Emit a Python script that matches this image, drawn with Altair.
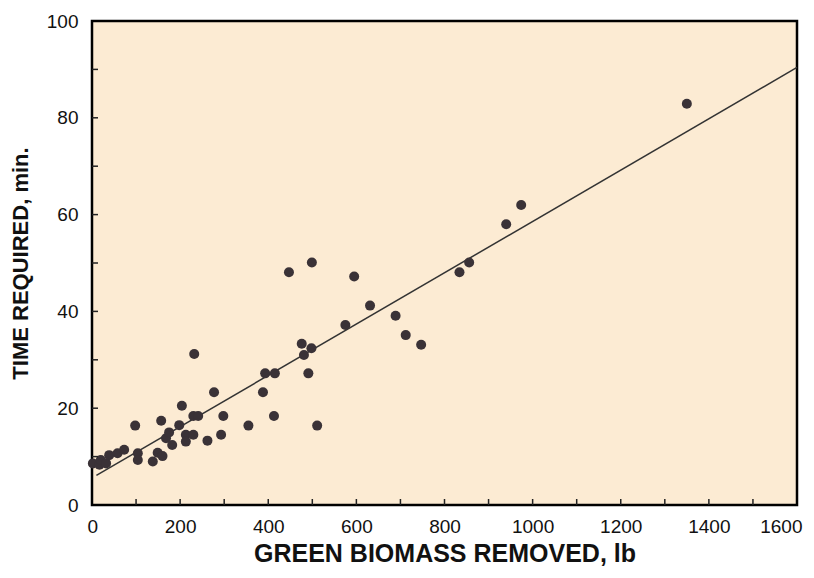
import altair as alt
import pandas as pd

# Data
biomass_lb = [2, 17, 20, 32, 39, 58, 73, 98, 104, 104, 138, 149, 160, 157, 168,
              175, 182, 198, 204, 213, 213, 230, 230, 232, 241, 262, 277, 293, 298,
              355, 388, 393, 413, 415, 447, 476, 481, 491, 498, 499, 511, 575, 595,
              631, 689, 712, 747, 834, 856, 940, 974, 1350]
time_min = [8.6, 8.3, 9.3, 8.6, 10.3, 10.7, 11.4, 16.4, 10.7, 9.3, 9.0, 10.8, 10.1, 17.4, 13.8,
            15.0, 12.4, 16.5, 20.5, 14.5, 13.1, 14.5, 18.4, 31.2, 18.4, 13.3, 23.3, 14.5, 18.4,
            16.4, 23.3, 27.2, 18.4, 27.2, 48.1, 33.3, 31.0, 27.2, 32.4, 50.1, 16.4, 37.2, 47.2,
            41.2, 39.1, 35.1, 33.1, 48.1, 50.1, 58.0, 62.0, 82.9]

# regression line end points
fit_x = [10, 1600]
fit_y = [6.1, 90.4]

y_ticks = list(range(10, 100, 10))
x_ticks = list(range(100, 1600, 100))

pts = pd.DataFrame({"x": biomass_lb, "y": time_min})
fit = pd.DataFrame({"x": fit_x, "y": fit_y})
yt = pd.DataFrame({"y": y_ticks})
xt = pd.DataFrame({"x": x_ticks})

FONT = "Liberation Sans"
xscale = alt.Scale(domain=[0, 1600], nice=False)
yscale = alt.Scale(domain=[0, 100], nice=False)

xaxis = alt.Axis(values=list(range(0, 1601, 200)), format="d", ticks=False, domain=False, grid=False,
                 labelFontSize=19, labelFont=FONT, labelColor="#111", labelPadding=12,
                 labelFlush=True, labelFlushOffset=5,
                 title="GREEN BIOMASS REMOVED, lb", titleFont=FONT, titleFontSize=25,
                 titleFontWeight="bold", titleColor="#111", titlePadding=5)
yaxis = alt.Axis(values=list(range(0, 101, 20)), format="d", ticks=False, domain=False, grid=False,
                 labelFontSize=19, labelFont=FONT, labelColor="#111", labelPadding=14,
                 title="TIME REQUIRED, min.", titleFont=FONT, titleFontSize=22,
                 titleFontWeight="bold", titleColor="#111", titlePadding=14)

points = alt.Chart(pts).mark_circle(size=100, opacity=1, color="#3a3237").encode(
    x=alt.X("x:Q", scale=xscale, axis=xaxis),
    y=alt.Y("y:Q", scale=yscale, axis=yaxis),
)
line = alt.Chart(fit).mark_line(color="#333333", strokeWidth=1.5).encode(
    x=alt.X("x:Q", scale=xscale),
    y=alt.Y("y:Q", scale=yscale),
)
ytick_marks = alt.Chart(yt).mark_rule(color="#222", strokeWidth=1.5).encode(
    y=alt.Y("y:Q", scale=yscale),
    x=alt.value(0), x2=alt.value(6),
)
xtick_marks = alt.Chart(xt).mark_rule(color="#222", strokeWidth=1.5).encode(
    x=alt.X("x:Q", scale=xscale),
    y=alt.value(484), y2=alt.value(478),
)

chart = alt.layer(line, points, ytick_marks, xtick_marks).properties(
    width=705, height=484,
    autosize=alt.AutoSizeParams(type="none"),
    padding={"left": 84, "top": 13, "right": 9, "bottom": 65},
    background="white",
).configure_view(
    fill="#fcebd3", stroke="black", strokeWidth=2.5
)

chart.save("out.html", embed_options={"renderer": "svg", "actions": False})
